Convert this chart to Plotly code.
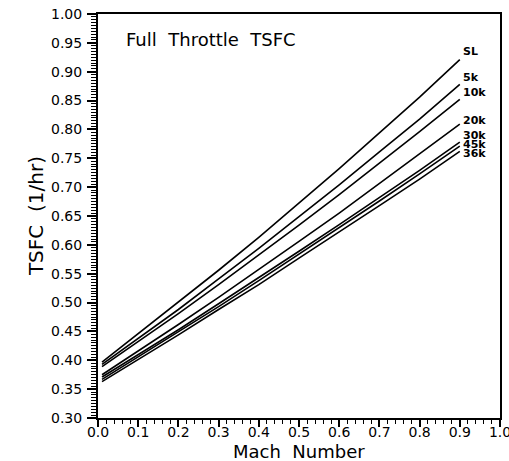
import plotly.graph_objects as go

mach = [0.01, 0.1, 0.2, 0.3, 0.4, 0.5, 0.6, 0.7, 0.8, 0.9]

tsfc_SL  = [0.397, 0.446, 0.500, 0.556, 0.613, 0.672, 0.732, 0.794, 0.856, 0.921]
tsfc_5k  = [0.393, 0.438, 0.488, 0.541, 0.594, 0.649, 0.704, 0.761, 0.818, 0.878]
tsfc_10k = [0.389, 0.432, 0.481, 0.531, 0.582, 0.634, 0.687, 0.741, 0.796, 0.852]
tsfc_20k = [0.375, 0.416, 0.462, 0.509, 0.557, 0.606, 0.655, 0.706, 0.757, 0.809]
tsfc_30k = [0.371, 0.410, 0.453, 0.498, 0.543, 0.589, 0.635, 0.682, 0.729, 0.778]
tsfc_45k = [0.367, 0.406, 0.449, 0.493, 0.538, 0.584, 0.629, 0.676, 0.723, 0.771]
tsfc_36k = [0.363, 0.401, 0.444, 0.488, 0.531, 0.577, 0.622, 0.668, 0.714, 0.762]

series_names = ["SL", "5k", "10k", "20k", "30k", "45k", "36k"]
series_vals = [tsfc_SL, tsfc_5k, tsfc_10k, tsfc_20k, tsfc_30k, tsfc_45k, tsfc_36k]
label_yshift = [8, 7, 7, 4, 7, 2, -2]

font_main = "DejaVu Sans"

fig = go.Figure()
for name, vals in zip(series_names, series_vals):
    fig.add_trace(go.Scatter(x=mach, y=vals, mode="lines", name=name,
                             line=dict(color="black", width=1.6),
                             showlegend=False, hoverinfo="skip"))

for name, vals, ys in zip(series_names, series_vals, label_yshift):
    fig.add_annotation(x=mach[-1], y=vals[-1], text="<b>%s</b>" % name,
                       xref="x", yref="y", xanchor="left", yanchor="middle",
                       xshift=1, yshift=ys, showarrow=False,
                       font=dict(family=font_main, size=11, color="black"))

fig.add_annotation(x=0.065, y=0.936, xref="paper", yref="paper", text="Full  Throttle  TSFC",
                   xanchor="left", yanchor="middle", showarrow=False,
                   font=dict(family=font_main, size=18, color="black"))

fig.add_annotation(x=-0.154, y=0.5, xref="paper", yref="paper", text="TSFC  (1/hr)",
                   textangle=-90, xanchor="center", yanchor="middle", showarrow=False,
                   font=dict(family=font_main, size=20, color="black"))

fig.add_annotation(x=0.5, y=-0.084, xref="paper", yref="paper", text="Mach  Number",
                   xanchor="center", yanchor="middle", showarrow=False,
                   font=dict(family=font_main, size=18, color="black"))

fig.update_xaxes(range=[0.0, 1.0], dtick=0.1, tickformat=".1f", automargin=False,
                 ticks="outside", ticklen=7, tickwidth=1.5, tickcolor="black",
                 ticklabelstandoff=-7, ticklabeloverflow="allow",
                 minor=dict(dtick=0.02, ticks="outside", ticklen=4, tickcolor="black", tickwidth=1.2),
                 showline=True, linecolor="black", linewidth=2, mirror=True,
                 showgrid=False, zeroline=False,
                 tickfont=dict(family=font_main, size=14, color="black"))
fig.update_yaxes(range=[0.30, 1.00], dtick=0.05, tickformat=".2f", automargin=False,
                 ticks="outside", ticklen=9, tickwidth=1.5, tickcolor="black",
                 ticklabelstandoff=2, ticklabeloverflow="allow",
                 minor=dict(dtick=0.005, ticks="outside", ticklen=5, tickcolor="black", tickwidth=1.2),
                 showline=True, linecolor="black", linewidth=2, mirror=True,
                 showgrid=False, zeroline=False,
                 tickfont=dict(family=font_main, size=14, color="black"))

fig.update_layout(width=509, height=461, plot_bgcolor="white", paper_bgcolor="white",
                  margin=dict(l=98, r=9, t=14, b=43, autoexpand=False))

fig.write_html("out.html", config={"displayModeBar": False},
               post_script="document.body.style.margin='0';document.body.style.overflow='hidden';")
